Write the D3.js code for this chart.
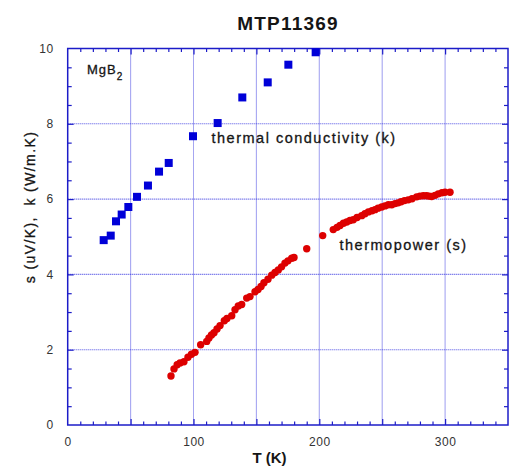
<!DOCTYPE html>
<html>
<head>
<meta charset="utf-8">
<script src="https://cdn.jsdelivr.net/npm/d3@7"></script>
<style>
  body { margin: 0; background: #fff; }
  text { font-family: Arial, "Liberation Sans", sans-serif; }
</style>
</head>
<body>
<svg id="chart"></svg>
<script>
// thermal conductivity k (blue squares)
var kT = [28.6, 34.2, 38.4, 42.9, 48.2, 55.1, 63.8, 72.6, 80.3, 99.6, 119.2, 138.8, 159.0, 175.4, 197.1];
var kVal = [4.91, 5.03, 5.41, 5.59, 5.79, 6.06, 6.36, 6.73, 6.96, 7.67, 8.02, 8.70, 9.10, 9.57, 9.90];

// thermopower s (red circles)
var sT = [82.1, 84.5, 87.0, 89.3, 92.4, 95.6, 98.4, 101.2, 105.7, 110.5, 112.3, 114.3, 116.3, 118.7,
  121.1, 124.5, 126.6, 130.4, 133.0, 135.6, 138.3, 142.3, 144.9, 148.9, 151.3, 153.7, 156.0, 159.2,
  162.2, 164.8, 167.4, 170.0, 172.7, 175.1, 178.1, 179.9, 190.0, 202.7, 211.1, 214.1, 216.5, 219.2,
  221.8, 224.4, 227.0, 230.0, 233.7, 236.3, 239.0, 241.9, 244.3, 246.7, 249.6, 252.2, 254.9, 257.6,
  260.2, 262.6, 265.0, 267.7, 270.7, 273.7, 277.4, 280.0, 282.7, 285.2, 287.2, 289.3, 292.0, 294.6,
  297.5, 299.9, 303.9];
var sVal = [1.30, 1.49, 1.60, 1.65, 1.68, 1.80, 1.88, 1.93, 2.13, 2.22, 2.31, 2.39, 2.45, 2.55,
  2.64, 2.77, 2.83, 2.90, 3.06, 3.16, 3.20, 3.37, 3.41, 3.54, 3.60, 3.68, 3.78, 3.87,
  3.98, 4.05, 4.12, 4.20, 4.30, 4.36, 4.43, 4.45, 4.68, 5.03, 5.19, 5.25, 5.30, 5.36,
  5.39, 5.43, 5.45, 5.51, 5.56, 5.61, 5.66, 5.69, 5.72, 5.76, 5.79, 5.82, 5.85, 5.85,
  5.88, 5.90, 5.93, 5.96, 5.98, 6.01, 6.06, 6.08, 6.09, 6.09, 6.08, 6.07, 6.10, 6.14,
  6.17, 6.18, 6.18];

var xLabelTicks = [0, 100, 200, 300];
var yLabelTicks = [0, 2, 4, 6, 8, 10];
var xGrid = [50, 100, 150, 200, 250, 300];
var yGrid = [2, 4, 6, 8];

var margin = {top: 48.5, right: 1, bottom: 41, left: 67.7},
    W = 509, H = 466,
    width = W - margin.left - margin.right,
    height = H - margin.top - margin.bottom;

var axisBlue = "#1c1cc8";
var ink = "#151515";

var x = d3.scaleLinear().domain([0, 350]).range([0, width]);
var y = d3.scaleLinear().domain([0, 10]).range([height, 0]);

var svg = d3.select("#chart").attr("width", W).attr("height", H);
var g = svg.append("g")
    .attr("transform", "translate(" + margin.left + "," + margin.top + ")");

// dotted grid
g.selectAll(".vgrid").data(xGrid).enter().append("line")
    .attr("x1", function(d) { return x(d); }).attr("x2", function(d) { return x(d); })
    .attr("y1", 0).attr("y2", height)
    .attr("stroke", "#3030e0").attr("stroke-width", 1.1).attr("stroke-dasharray", "1,1")
    .attr("opacity", 0.85);
g.selectAll(".hgrid").data(yGrid).enter().append("line")
    .attr("y1", function(d) { return y(d); }).attr("y2", function(d) { return y(d); })
    .attr("x1", 0).attr("x2", width)
    .attr("stroke", "#3030e0").attr("stroke-width", 1.1).attr("stroke-dasharray", "1,1")
    .attr("opacity", 0.85);

// inward ticks on all four sides
function tickAxis(axisFn, scale, vals, size, tr) {
  var a = axisFn(scale).tickValues(vals).tickSize(size).tickFormat("");
  var ag = g.append("g").attr("transform", tr).call(a);
  ag.select(".domain").remove();
  ag.selectAll("line").attr("stroke", axisBlue).attr("stroke-width", 1.2);
}
var xMinor = d3.range(10, 350, 10).filter(function(v) { return v % 50 !== 0; });
var yMinor = d3.range(0.5, 10, 0.5).filter(function(v) { return v % 2 !== 0; });
tickAxis(d3.axisBottom, x, xMinor, -3.5, "translate(0," + height + ")");
tickAxis(d3.axisTop, x, xMinor, -3.5, "translate(0,0)");
tickAxis(d3.axisLeft, y, yMinor, -4, "translate(0,0)");
tickAxis(d3.axisRight, y, yMinor, -4, "translate(" + width + ",0)");
tickAxis(d3.axisBottom, x, xGrid, -6, "translate(0," + height + ")");
tickAxis(d3.axisTop, x, xGrid, -6, "translate(0,0)");
tickAxis(d3.axisLeft, y, yGrid, -6, "translate(0,0)");
tickAxis(d3.axisRight, y, yGrid, -6, "translate(" + width + ",0)");

// frame
g.append("rect").attr("x", 0).attr("y", 0).attr("width", width).attr("height", height)
    .attr("fill", "none").attr("stroke", axisBlue).attr("stroke-width", 1.5);

// tick labels
var xAxis = d3.axisBottom(x).tickValues(xLabelTicks).tickSize(0).tickPadding(12);
var xa = g.append("g").attr("transform", "translate(0," + height + ")").call(xAxis);
xa.select(".domain").remove();
xa.selectAll("text").attr("font-size", "12px").attr("fill", "#333").attr("letter-spacing", "0.5px")
    .style("font-family", "Arial, 'Liberation Sans', sans-serif");

var yAxis = d3.axisLeft(y).tickValues(yLabelTicks).tickSize(0).tickPadding(14);
var ya = g.append("g").call(yAxis);
ya.select(".domain").remove();
ya.selectAll("text").attr("font-size", "12px").attr("fill", "#333").attr("letter-spacing", "0.5px")
    .style("font-family", "Arial, 'Liberation Sans', sans-serif");

// data
var kData = kT.map(function(t, i) { return {t: t, v: kVal[i]}; });
var sData = sT.map(function(t, i) { return {t: t, v: sVal[i]}; });

var sq = 8;
g.selectAll(".k").data(kData).enter().append("rect")
    .attr("x", function(d) { return x(d.t) - sq / 2; })
    .attr("y", function(d) { return y(d.v) - sq / 2; })
    .attr("width", sq).attr("height", sq)
    .attr("fill", "#0000d8");

g.selectAll(".s").data(sData).enter().append("circle")
    .attr("cx", function(d) { return x(d.t); })
    .attr("cy", function(d) { return y(d.v); })
    .attr("r", 3.7)
    .attr("fill", "#dd0000");

// labels
svg.append("text").attr("x", 288).attr("y", 29.5).attr("text-anchor", "middle")
    .attr("font-size", "19px").attr("font-weight", "bold").attr("letter-spacing", "1.2px")
    .attr("fill", ink).text("MTP11369");

svg.append("text").attr("x", 269.5).attr("y", 463).attr("text-anchor", "middle")
    .attr("font-size", "15px").attr("font-weight", "bold").attr("fill", ink).text("T (K)");

svg.append("text")
    .attr("transform", "translate(35,207) rotate(-90)")
    .attr("text-anchor", "middle").attr("font-size", "14px").attr("fill", ink)
    .attr("stroke", ink).attr("stroke-width", 0.3)
    .attr("letter-spacing", "1.4px")
    .attr("xml:space", "preserve")
    .text("s (uV/K),  k (W/m.K)");

var mg = svg.append("text").attr("x", 87).attr("y", 74).attr("font-size", "13px").attr("fill", ink)
    .attr("stroke", ink).attr("stroke-width", 0.3).attr("letter-spacing", "1px");
mg.append("tspan").text("MgB");
mg.append("tspan").attr("dy", 6).attr("font-size", "10px").text("2");

svg.append("text").attr("x", 211.5).attr("y", 142.5).attr("font-size", "14.5px").attr("fill", ink)
    .attr("stroke", ink).attr("stroke-width", 0.3)
    .attr("letter-spacing", "1.5px").text("thermal conductivity (k)");

svg.append("text").attr("x", 339.5).attr("y", 249.5).attr("font-size", "14.5px").attr("fill", ink)
    .attr("stroke", ink).attr("stroke-width", 0.3)
    .attr("letter-spacing", "1.5px").text("thermopower (s)");
</script>
</body>
</html>
